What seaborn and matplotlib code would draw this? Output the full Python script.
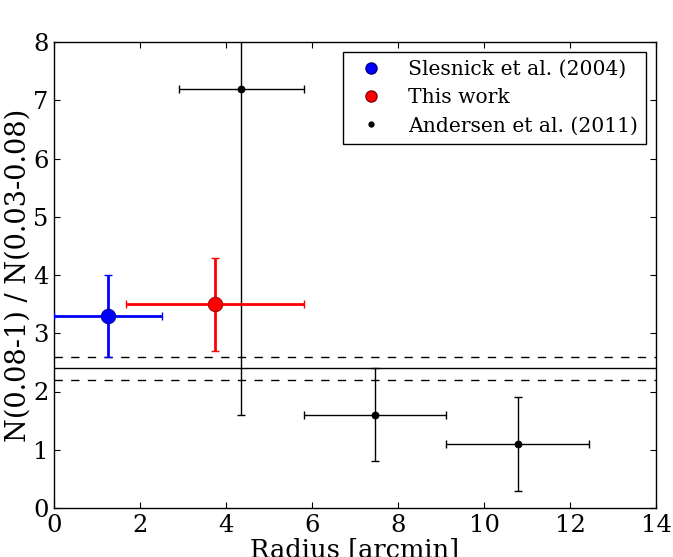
import matplotlib
matplotlib.use("Agg")
import matplotlib.pyplot as plt
from matplotlib.lines import Line2D
import numpy as np
import pandas as pd
import seaborn as sns

# Slesnick et al. (2004)
slesnick_r = [1.25]
slesnick_rerr = [1.25]
slesnick_ratio = [3.3]
slesnick_err = [0.7]

# This work
this_r = [3.74]
this_rerr = [2.07]
this_ratio = [3.5]
this_err = [0.8]

# Andersen et al. (2011)
andersen_r = [4.36, 7.47, 10.78]
andersen_rerr = [1.45, 1.65, 1.66]
andersen_ratio = [7.2, 1.6, 1.1]
andersen_err = [5.6, 0.8, 0.8]

# field ratio with +/- range
field_ratio = 2.4
field_lo = 2.2
field_hi = 2.6

labels = ["Slesnick et al. (2004)", "This work", "Andersen et al. (2011)"]

sns.set_style("ticks")
plt.rcParams['font.family'] = ['DejaVu Serif']
plt.rcParams['text.color'] = 'k'
plt.rcParams['axes.labelcolor'] = 'k'
plt.rcParams['xtick.color'] = 'k'
plt.rcParams['ytick.color'] = 'k'
plt.rcParams['xtick.direction'] = 'in'
plt.rcParams['ytick.direction'] = 'in'
plt.rcParams['xtick.top'] = True
plt.rcParams['ytick.right'] = True
plt.rcParams['xtick.major.size'] = 4
plt.rcParams['ytick.major.size'] = 4
plt.rcParams['axes.linewidth'] = 1.0

fig = plt.figure(figsize=(6.73, 5.57), dpi=100)
ax = fig.add_axes([54 / 673, 49 / 557, 602 / 673, 466 / 557])

# horizontal reference lines
ax.axhline(field_ratio, color='k', lw=1, zorder=1)
ax.axhline(field_lo, color='k', lw=1, ls=(0, (6, 6)), zorder=1)
ax.axhline(field_hi, color='k', lw=1, ls=(0, (6, 6)), zorder=1)

# error bars
ax.errorbar(andersen_r, andersen_ratio, xerr=andersen_rerr, yerr=andersen_err,
            fmt='none', ecolor='k', elinewidth=1, capsize=3, capthick=1, zorder=2)
ax.errorbar(slesnick_r, slesnick_ratio, xerr=slesnick_rerr, yerr=slesnick_err,
            fmt='none', ecolor='b', elinewidth=2, capsize=3, capthick=1, zorder=3)
ax.errorbar(this_r, this_ratio, xerr=this_rerr, yerr=this_err,
            fmt='none', ecolor='r', elinewidth=2, capsize=3, capthick=1, zorder=3)

# points
sns.scatterplot(x=andersen_r, y=andersen_ratio, color='k', s=26, edgecolor='k',
                linewidth=0.5, ax=ax, zorder=4)
sns.scatterplot(x=slesnick_r, y=slesnick_ratio, color='b', s=110, edgecolor='#00008b',
                linewidth=0.6, ax=ax, zorder=4)
sns.scatterplot(x=this_r, y=this_ratio, color='r', s=110, edgecolor='#8b0000',
                linewidth=0.6, ax=ax, zorder=4)

ax.set_xlim(0, 14)
ax.set_ylim(0, 8)
ax.set_xticks(np.arange(0, 15, 2))
ax.set_yticks(np.arange(0, 9, 1))
ax.tick_params(labelsize=17.5, pad=4, color='k', width=0.8)
for s in ax.spines.values():
    s.set_color('k')
ax.set_xlabel('Radius [arcmin]', fontsize=18.5, labelpad=1)
ax.set_ylabel('N(0.08-1) / N(0.03-0.08)', fontsize=19.5, labelpad=1)

handles = [
    Line2D([], [], ls='none', marker='o', color='b', mec='#00008b', ms=8),
    Line2D([], [], ls='none', marker='o', color='r', mec='#8b0000', ms=8),
    Line2D([], [], ls='none', marker='o', color='k', ms=3.5),
]
leg = ax.legend(handles, labels, loc='upper right', fontsize=14.6, numpoints=1,
                fancybox=False, framealpha=1, edgecolor='k', borderaxespad=0.5,
                borderpad=0.4, handletextpad=0.8, labelspacing=0.45)
leg.get_frame().set_linewidth(1.0)

fig.savefig('out.png', dpi=100)
